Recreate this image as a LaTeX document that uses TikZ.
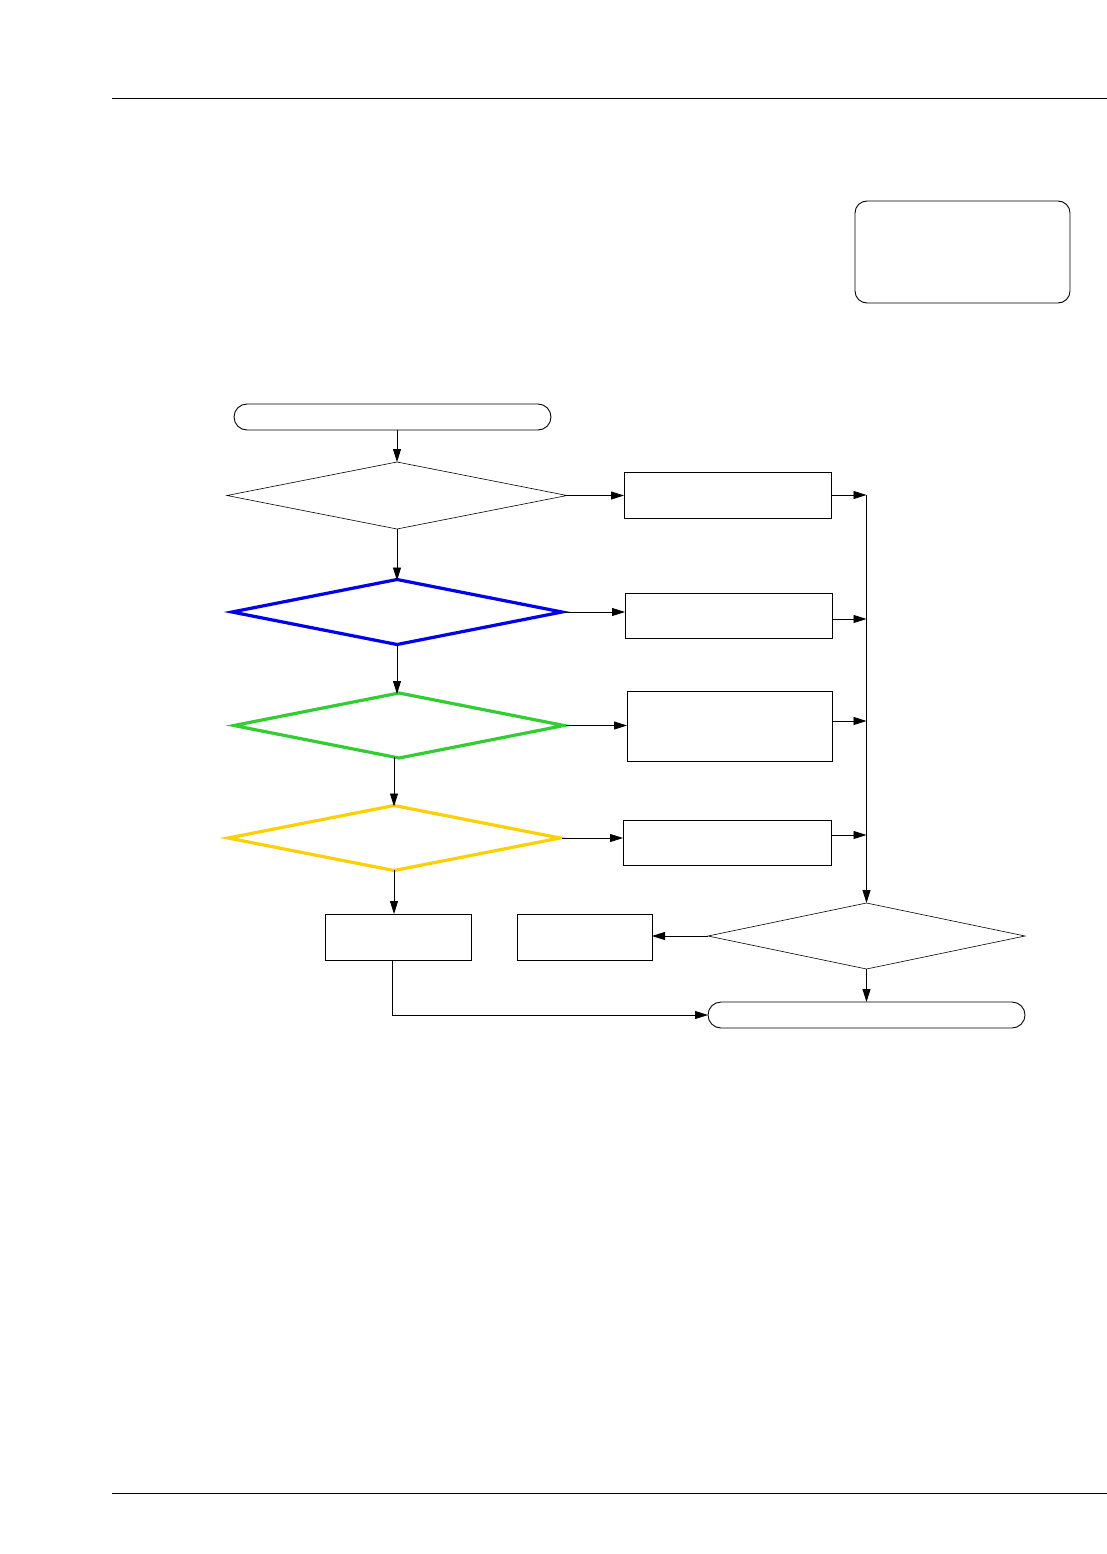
\documentclass[tikz,border=0pt]{standalone}
\usepackage{tikz}
\usetikzlibrary{positioning}
\usetikzlibrary{shapes.geometric}
\usetikzlibrary{arrows.meta}

\definecolor{decblue}{RGB}{0,0,240}
\definecolor{decgreen}{RGB}{50,205,50}
\definecolor{decyellow}{RGB}{255,208,0}

\begin{document}
\begin{tikzpicture}[x=1pt, y=-1pt,
		  every node/.style = {inner sep=0pt, outer sep=0pt},
		  decision/.style = {shape=diamond, draw, line width=0.6pt, minimum width=340pt, minimum height=67pt},
		  colored/.style = {decision, line width=3.2pt, minimum width=330pt, minimum height=65pt},
		  process/.style = {shape=rectangle, draw, line width=0.9pt},
		  terminal/.style = {shape=rectangle, draw, line width=0.9pt, rounded corners=13pt, minimum width=317pt, minimum height=26pt},
		  flow/.style = {draw, line width=0.8pt, -{Triangle[length=13pt,width=8pt]}}
		]
		  \useasboundingbox (0,0) rectangle (1107,1554);
		  \draw[line width=1pt] (112,99) -- (1107,99);
		  \draw[line width=1pt] (112,1493) -- (1107,1493);

		  \node[process, rounded corners=12pt, minimum width=215pt, minimum height=102pt] (note) at (962.5,252) {};

		  % main column
		  \node[terminal] (start) at (392.5,417) {};
		  \node[decision] (dec1) at (397,495.5) {};
		  \node[colored, draw=decblue] (dec2) at (397,612) {};
		  \node[colored, draw=decgreen] (dec3) at (399,725.5) {};
		  \node[colored, draw=decyellow, minimum width=332pt] (dec4) at (394,838) {};
		  \node[process, minimum width=146pt, minimum height=46pt] (box5) at (398,937) {};
		  \node[process, minimum width=135pt, minimum height=46pt] (box6) at (584.5,937) {};

		  % right column
		  \node[process, minimum width=207pt, minimum height=46pt] (box1) at (727.5,495) {};
		  \node[process, minimum width=207pt, minimum height=45pt] (box2) at (728.5,615.5) {};
		  \node[process, minimum width=205pt, minimum height=70pt] (box3) at (729.5,726) {};
		  \node[process, minimum width=208pt, minimum height=45pt] (box4) at (727,842.5) {};
		  \node[decision, minimum width=317pt, minimum height=66pt] (dec5) at (866.5,936) {};
		  \node[terminal] (end) at (866.5,1015) {};

		  \coordinate (bus1) at (866.5,495);
		  \coordinate (bus2) at (866.5,619);
		  \coordinate (bus3) at (866.5,721);
		  \coordinate (bus4) at (866.5,835);

		  \draw[flow] (start.south -| dec1.north) -- (dec1.north);
		  \draw[flow] (dec1.south) -- ([yshift=-1pt]dec2.north);
		  \draw[flow] ([yshift=1pt]dec2.south) -- ([yshift=-1pt]dec3.north -| dec2.south);
		  \draw[flow] ([yshift=1pt]dec3.south -| dec4.north) -- ([yshift=-1pt]dec4.north);
		  \draw[flow] ([yshift=1pt]dec4.south) -- (box5.north -| dec4.south);

		  \draw[flow] (dec1.east) -- (box1.west |- dec1.east);
		  \draw[flow] ([xshift=2pt]dec2.east) -- (box2.west |- dec2.east);
		  \draw[flow] ([xshift=2pt]dec3.east) -- (box3.west |- dec3.east);
		  \draw[flow] ([xshift=2pt]dec4.east) -- (box4.west |- dec4.east);

		  \draw[flow] (box1.east |- bus1) -- (bus1);
		  \draw[flow] (box2.east |- bus2) -- (bus2);
		  \draw[flow] (box3.east |- bus3) -- (bus3);
		  \draw[flow] (box4.east |- bus4) -- (bus4);
		  \draw[flow] (bus1) -- (dec5.north);

		  \draw[flow] (dec5.west) -- (box6.east |- dec5.west);
		  \draw[flow] (dec5.south) -- (end.north);
		  \draw[flow] ([xshift=-6pt]box5.south) |- (end.west);
		\end{tikzpicture}
\end{document}
